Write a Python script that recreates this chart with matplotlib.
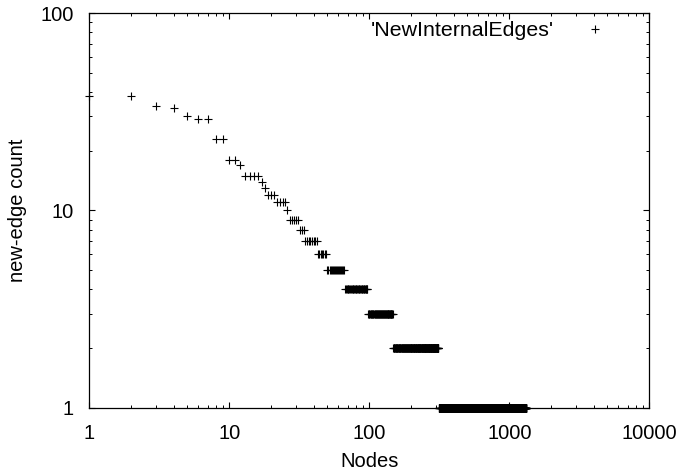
import matplotlib
matplotlib.use("Agg")
import matplotlib.pyplot as plt
from matplotlib.ticker import LogLocator, NullFormatter, FixedLocator, FixedFormatter

# Runs of consecutive node counts sharing the same new-edge count
run_start = [1, 3, 4, 5, 6, 8, 10, 12, 13, 17, 18, 19, 22, 26, 27, 32, 35, 43, 50, 67, 98, 148, 313]
run_end   = [2, 3, 4, 5, 7, 9, 11, 12, 16, 17, 18, 21, 25, 26, 31, 34, 42, 49, 66, 97, 147, 312, 1320]
run_value = [38, 34, 33, 30, 29, 23, 18, 17, 15, 14, 13, 12, 11, 10, 9, 8, 7, 6, 5, 4, 3, 2, 1]

series_label = "'NewInternalEdges'"
x_ticks = [1, 10, 100, 1000, 10000]
x_tick_labels = ["1", "10", "100", "1000", "10000"]
y_ticks = [1, 10, 100]
y_tick_labels = ["1", "10", "100"]

nodes = []
counts = []
for s, e, v in zip(run_start, run_end, run_value):
    for n in range(s, e + 1):
        nodes.append(n)
        counts.append(v)

plt.rcParams['font.family'] = ['Liberation Sans', 'DejaVu Sans']
fs = 14.5

fig = plt.figure(figsize=(6.79, 4.73), dpi=100)
W, H = 679, 473
left, right, top, bottom = 89.3, 649.3, 13.3, 407.7
ax = fig.add_axes([left / W, 1 - bottom / H, (right - left) / W, (bottom - top) / H])

ax.plot(nodes, counts, linestyle='none', marker='+', markersize=5.2,
        markeredgewidth=0.8, color='black', label=series_label, clip_on=False)

ax.set_xscale('log')
ax.set_yscale('log')
ax.set_xlim(1, 10000)
ax.set_ylim(1, 100)

ax.xaxis.set_major_locator(FixedLocator(x_ticks))
ax.xaxis.set_major_formatter(FixedFormatter(x_tick_labels))
ax.yaxis.set_major_locator(FixedLocator(y_ticks))
ax.yaxis.set_major_formatter(FixedFormatter(y_tick_labels))
ax.xaxis.set_minor_locator(LogLocator(base=10, subs=range(2, 10), numticks=20))
ax.yaxis.set_minor_locator(LogLocator(base=10, subs=range(2, 10), numticks=20))
ax.xaxis.set_minor_formatter(NullFormatter())
ax.yaxis.set_minor_formatter(NullFormatter())

ax.tick_params(which='both', direction='in', top=True, right=True, color='black')
ax.tick_params(which='major', length=4.0, width=0.8, labelsize=fs, pad=11)
ax.tick_params(which='minor', length=2.2, width=0.7)
ax.tick_params(axis='x', which='major', pad=12)

for sp in ax.spines.values():
    sp.set_linewidth(0.9)
    sp.set_color('black')

ax.set_xlabel('Nodes', fontsize=fs, labelpad=6)
ax.set_ylabel('new-edge count', fontsize=fs, labelpad=10)

leg = ax.legend(loc='upper right', bbox_to_anchor=((615 - left) / (right - left), 1 - (21 - top) / (bottom - top)),
                markerfirst=False, frameon=False, fontsize=15.4, handletextpad=0.95,
                handlelength=1.9, borderpad=0, borderaxespad=0, numpoints=1)

fig.savefig('out.png', dpi=100)
